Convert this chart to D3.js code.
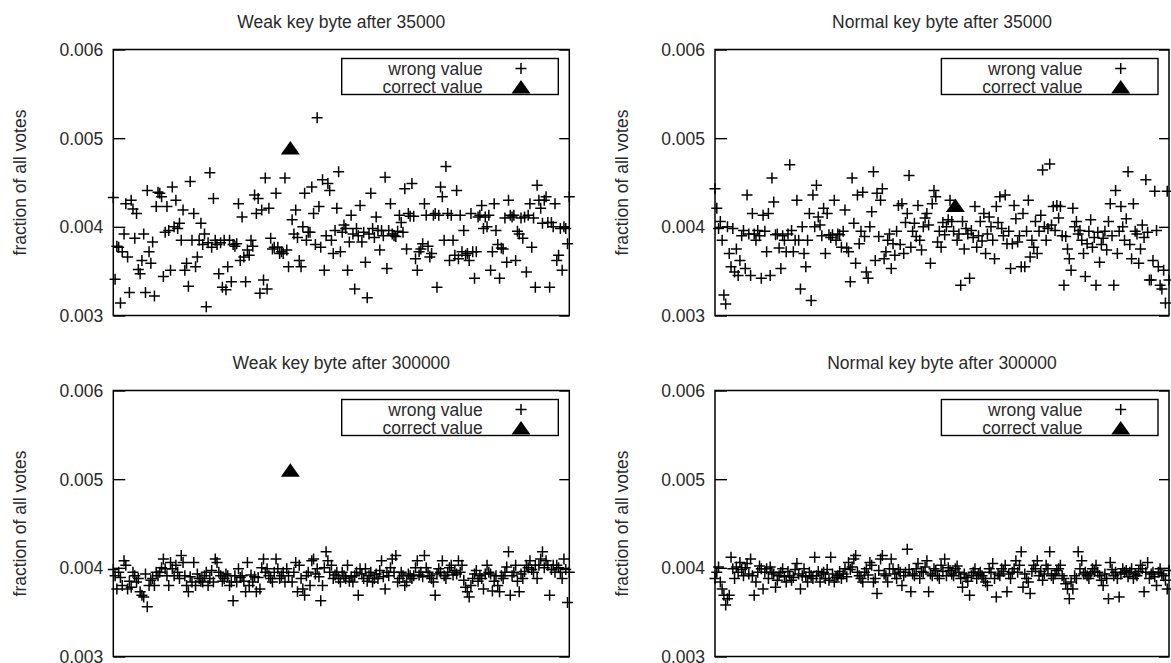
<!doctype html>
<html>
<head>
<meta charset="utf-8">
<script src="https://cdnjs.cloudflare.com/ajax/libs/d3/7.8.5/d3.min.js"></script>
<style>
  body { margin: 0; background: #fff; }
  svg text { font-family: "Liberation Sans", Arial, sans-serif; fill: #2a2a2a; }
</style>
</head>
<body>
<svg id="chart" width="1171" height="663"></svg>
<script>
// votes per key byte 0..255, as fraction of all votes in units of 1e-5
// null marks the correct key byte (drawn as a triangle instead)
var weak35k = [
  433,341,378,377,314,372,392,426,366,326,430,420,387,415,352,347,
  362,392,326,441,372,359,383,322,423,439,438,434,344,394,423,396,
  351,445,400,430,398,404,385,419,351,359,333,451,385,415,355,366,
  385,404,380,392,310,382,461,377,432,385,380,347,382,332,385,329,
  355,385,338,380,378,381,426,362,411,366,338,374,368,385,378,436,
  415,432,325,419,340,455,330,421,387,375,377,438,377,370,372,370,
  455,374,355,null,408,392,419,388,362,355,400,438,385,394,394,445,
  415,380,523,423,377,453,351,390,449,441,385,370,396,421,462,372,
  394,402,398,351,383,413,392,330,398,390,424,383,394,360,320,392,
  438,398,388,411,396,374,396,390,456,353,396,426,392,390,389,395,
  413,405,394,443,375,415,412,449,412,364,351,372,375,381,426,413,
  378,366,370,413,415,332,413,445,434,385,468,415,362,413,385,368,
  441,364,413,372,396,368,370,362,415,372,342,372,411,413,424,398,
  411,400,413,351,372,426,396,380,342,376,375,410,360,430,413,411,
  413,362,395,392,410,387,411,349,413,426,377,410,332,447,430,421,
  404,430,434,405,332,405,400,426,362,368,398,351,400,398,381,434
];
var normal35k = [
  443,421,398,406,385,323,313,400,370,355,398,349,375,345,362,390,
  396,353,436,392,345,415,392,385,396,390,342,413,395,372,415,345,
  455,428,391,392,376,353,390,385,372,392,470,396,372,385,430,385,
  330,400,370,355,385,415,317,436,400,447,411,402,390,421,370,415,
  391,388,391,430,385,392,391,377,395,419,376,372,338,455,404,359,
  436,381,395,439,389,349,342,400,417,462,362,438,389,430,443,364,
  372,385,392,353,381,368,395,424,380,426,370,405,415,458,377,395,
  404,389,424,385,374,400,410,415,402,359,426,441,434,383,395,377,
  405,391,400,408,430,406,395,null,385,392,334,406,375,398,392,342,
  396,388,423,377,390,406,384,415,370,392,411,400,385,364,423,405,
  434,398,390,436,381,395,353,381,424,409,383,390,355,415,355,395,
  430,366,385,377,406,370,395,413,464,400,385,398,471,402,423,396,
  424,410,423,390,334,389,375,364,351,421,400,406,392,396,385,370,
  344,381,395,408,377,388,334,394,360,380,387,395,374,406,426,390,
  334,441,370,395,423,400,385,409,462,380,364,426,395,392,359,375,
  402,388,453,394,340,340,362,440,396,355,334,330,351,314,440,340
];
var weak300k = [
  398,391,376,395,389,380,408,403,376,385,378,395,391,384,388,373,
  369,367,393,356,380,386,388,380,395,391,395,400,410,399,391,380,
  406,399,391,403,395,388,414,406,391,380,373,390,384,406,380,393,
  388,385,384,391,395,380,388,397,384,410,406,395,391,385,388,393,
  391,380,384,363,391,384,399,389,391,385,373,406,380,392,384,390,
  373,389,376,400,410,395,399,391,388,384,395,410,399,388,391,395,
  384,399,391,null,384,395,406,373,403,388,376,369,391,395,380,408,
  410,393,399,390,363,380,400,418,408,395,403,388,392,395,388,384,
  395,391,388,403,385,390,384,391,395,369,399,393,388,399,385,391,
  395,384,388,393,388,397,408,390,376,395,391,400,410,395,414,384,
  388,395,391,380,384,393,391,388,391,400,408,392,395,390,414,400,
  395,391,388,384,369,393,399,395,408,391,388,395,400,403,392,397,
  393,408,395,403,386,378,373,367,380,388,393,397,385,391,388,376,
  393,403,395,393,374,385,391,380,373,391,388,395,401,418,369,391,
  395,403,385,373,393,388,396,403,400,408,398,395,403,388,403,410,
  418,400,408,403,369,398,403,395,403,400,395,388,410,398,361,395
];
var normal300k = [
  388,395,401,384,376,369,358,365,369,412,399,388,401,395,406,398,
  391,400,405,393,410,391,369,384,395,402,399,376,395,399,388,401,
  395,393,378,386,391,395,399,390,384,396,391,386,389,398,405,393,
  376,391,399,390,384,395,391,388,412,391,396,384,393,395,388,398,
  386,412,393,384,389,391,396,388,393,399,390,406,398,401,410,414,
  395,391,388,384,395,399,392,406,403,384,388,371,397,410,414,393,
  391,384,399,410,399,393,388,398,395,380,391,395,421,398,373,393,
  391,399,405,388,396,395,401,408,373,393,391,399,397,391,388,403,
  396,410,391,400,397,393,391,399,402,395,388,378,393,389,385,369,
  391,395,399,388,393,395,391,388,384,380,399,395,405,388,367,393,
  391,399,396,403,373,393,388,395,399,408,395,403,418,378,393,388,
  384,371,396,403,399,408,391,396,386,393,403,399,418,391,388,393,
  397,399,403,391,388,382,376,365,384,376,391,388,418,399,408,393,
  395,391,388,393,399,396,403,395,391,386,380,393,388,365,406,398,
  391,395,388,367,393,399,395,397,390,395,399,388,393,391,396,403,
  399,373,395,406,388,393,395,390,380,395,399,393,391,386,376,397
];

var titles = ["Weak key byte after 35000", "Normal key byte after 35000",
              "Weak key byte after 300000", "Normal key byte after 300000"];
var correctByte = [99, 135, 99, null];
var correctVote = [489, 424, 510, null];
var yTicks = [0.003, 0.004, 0.005, 0.006];
var legendLabels = ["wrong value", "correct value"];
var yLabel = "fraction of all votes";

var wrongSeries = [weak35k, normal35k, weak300k, normal300k];

// frame of each panel, in pixels
var frames = [
  {x0: 113.3, x1: 569.3, y0: 49.5, y1: 315.5},
  {x0: 715, x1: 1169, y0: 49.5, y1: 315.5},
  {x0: 113.3, x1: 569.3, y0: 390.5, y1: 656.5},
  {x0: 715, x1: 1169, y0: 390.5, y1: 656.5}
];

var svg = d3.select("#chart");
var plusPath = "M-5.5,0H5.5M0,-5.5V5.5";
var triPath = "M0,-7L9.5,6.5L-9.5,6.5Z";
var fontSize = "17.5px";

frames.forEach(function(f, i) {
    var x = d3.scaleLinear().domain([0, 255]).range([f.x0, f.x1]);
    var y = d3.scaleLinear().domain([0.003, 0.006]).range([f.y1, f.y0]);
    var g = svg.append("g");

    // title
    g.append("text")
        .attr("x", (f.x0 + f.x1) / 2)
        .attr("y", f.y0 - 22)
        .attr("text-anchor", "middle")
        .style("font-size", fontSize)
        .text(titles[i]);

    // y label
    g.append("text")
        .attr("transform", "translate(" + (f.x0 - 93) + "," + ((f.y0 + f.y1) / 2) + ") rotate(-90)")
        .attr("text-anchor", "middle")
        .attr("dy", "0.35em")
        .style("font-size", fontSize)
        .text(yLabel);

    // wrong values
    var pts = wrongSeries[i]
        .map(function(v, k) { return {k: k, v: v}; })
        .filter(function(d) { return d.v !== null; });

    g.append("g").selectAll("path")
        .data(pts)
        .enter()
        .append("path")
        .attr("d", plusPath)
        .attr("transform", function(d) { return "translate(" + x(d.k) + "," + y(d.v / 1e5) + ")"; })
        .attr("stroke", "#000")
        .attr("stroke-width", 1.5)
        .attr("fill", "none");

    // correct value
    if (correctByte[i] !== null) {
        g.append("path")
            .attr("d", triPath)
            .attr("transform", "translate(" + x(correctByte[i]) + "," + y(correctVote[i] / 1e5) + ")")
            .attr("fill", "#000");
    }

    // axes
    var left = g.append("g")
        .attr("transform", "translate(" + f.x0 + ",0)")
        .call(d3.axisLeft(y).tickValues(yTicks).tickSize(-12).tickPadding(10).tickFormat(d3.format(".3f")));
    left.select(".domain").remove();
    left.attr("font-family", null).attr("font-size", null);
    left.selectAll("text").style("font-size", fontSize).attr("dy", "0.35em").attr("fill", null);
    left.selectAll("line").attr("stroke", "#000").attr("stroke-width", 1.4);

    var right = g.append("g")
        .attr("transform", "translate(" + f.x1 + ",0)")
        .call(d3.axisRight(y).tickValues(yTicks).tickSize(-10).tickFormat(""));
    right.select(".domain").remove();
    right.selectAll("line").attr("stroke", "#000").attr("stroke-width", 1.4);

    // frame
    g.append("rect")
        .attr("x", f.x0).attr("y", f.y0)
        .attr("width", f.x1 - f.x0).attr("height", f.y1 - f.y0)
        .attr("fill", "none")
        .attr("stroke", "#000")
        .attr("stroke-width", 1.5);

    // legend
    var lg = g.append("g");
    lg.append("rect")
        .attr("x", f.x1 - 227.6).attr("y", f.y0 + 9)
        .attr("width", 216.6).attr("height", 36)
        .attr("fill", "#fff")
        .attr("stroke", "#000")
        .attr("stroke-width", 1.4);
    legendLabels.forEach(function(lab, j) {
        var cy = f.y0 + 19 + j * 18.4;
        lg.append("text")
            .attr("x", f.x1 - 86.6)
            .attr("y", cy)
            .attr("dy", "0.35em")
            .attr("text-anchor", "end")
            .style("font-size", fontSize)
            .text(lab);
        lg.append("path")
            .attr("d", j === 0 ? plusPath : triPath)
            .attr("transform", "translate(" + (f.x1 - 48.3) + "," + cy + ")")
            .attr("stroke", j === 0 ? "#000" : "none")
            .attr("stroke-width", 1.5)
            .attr("fill", j === 0 ? "none" : "#000");
    });
});
</script>
</body>
</html>
